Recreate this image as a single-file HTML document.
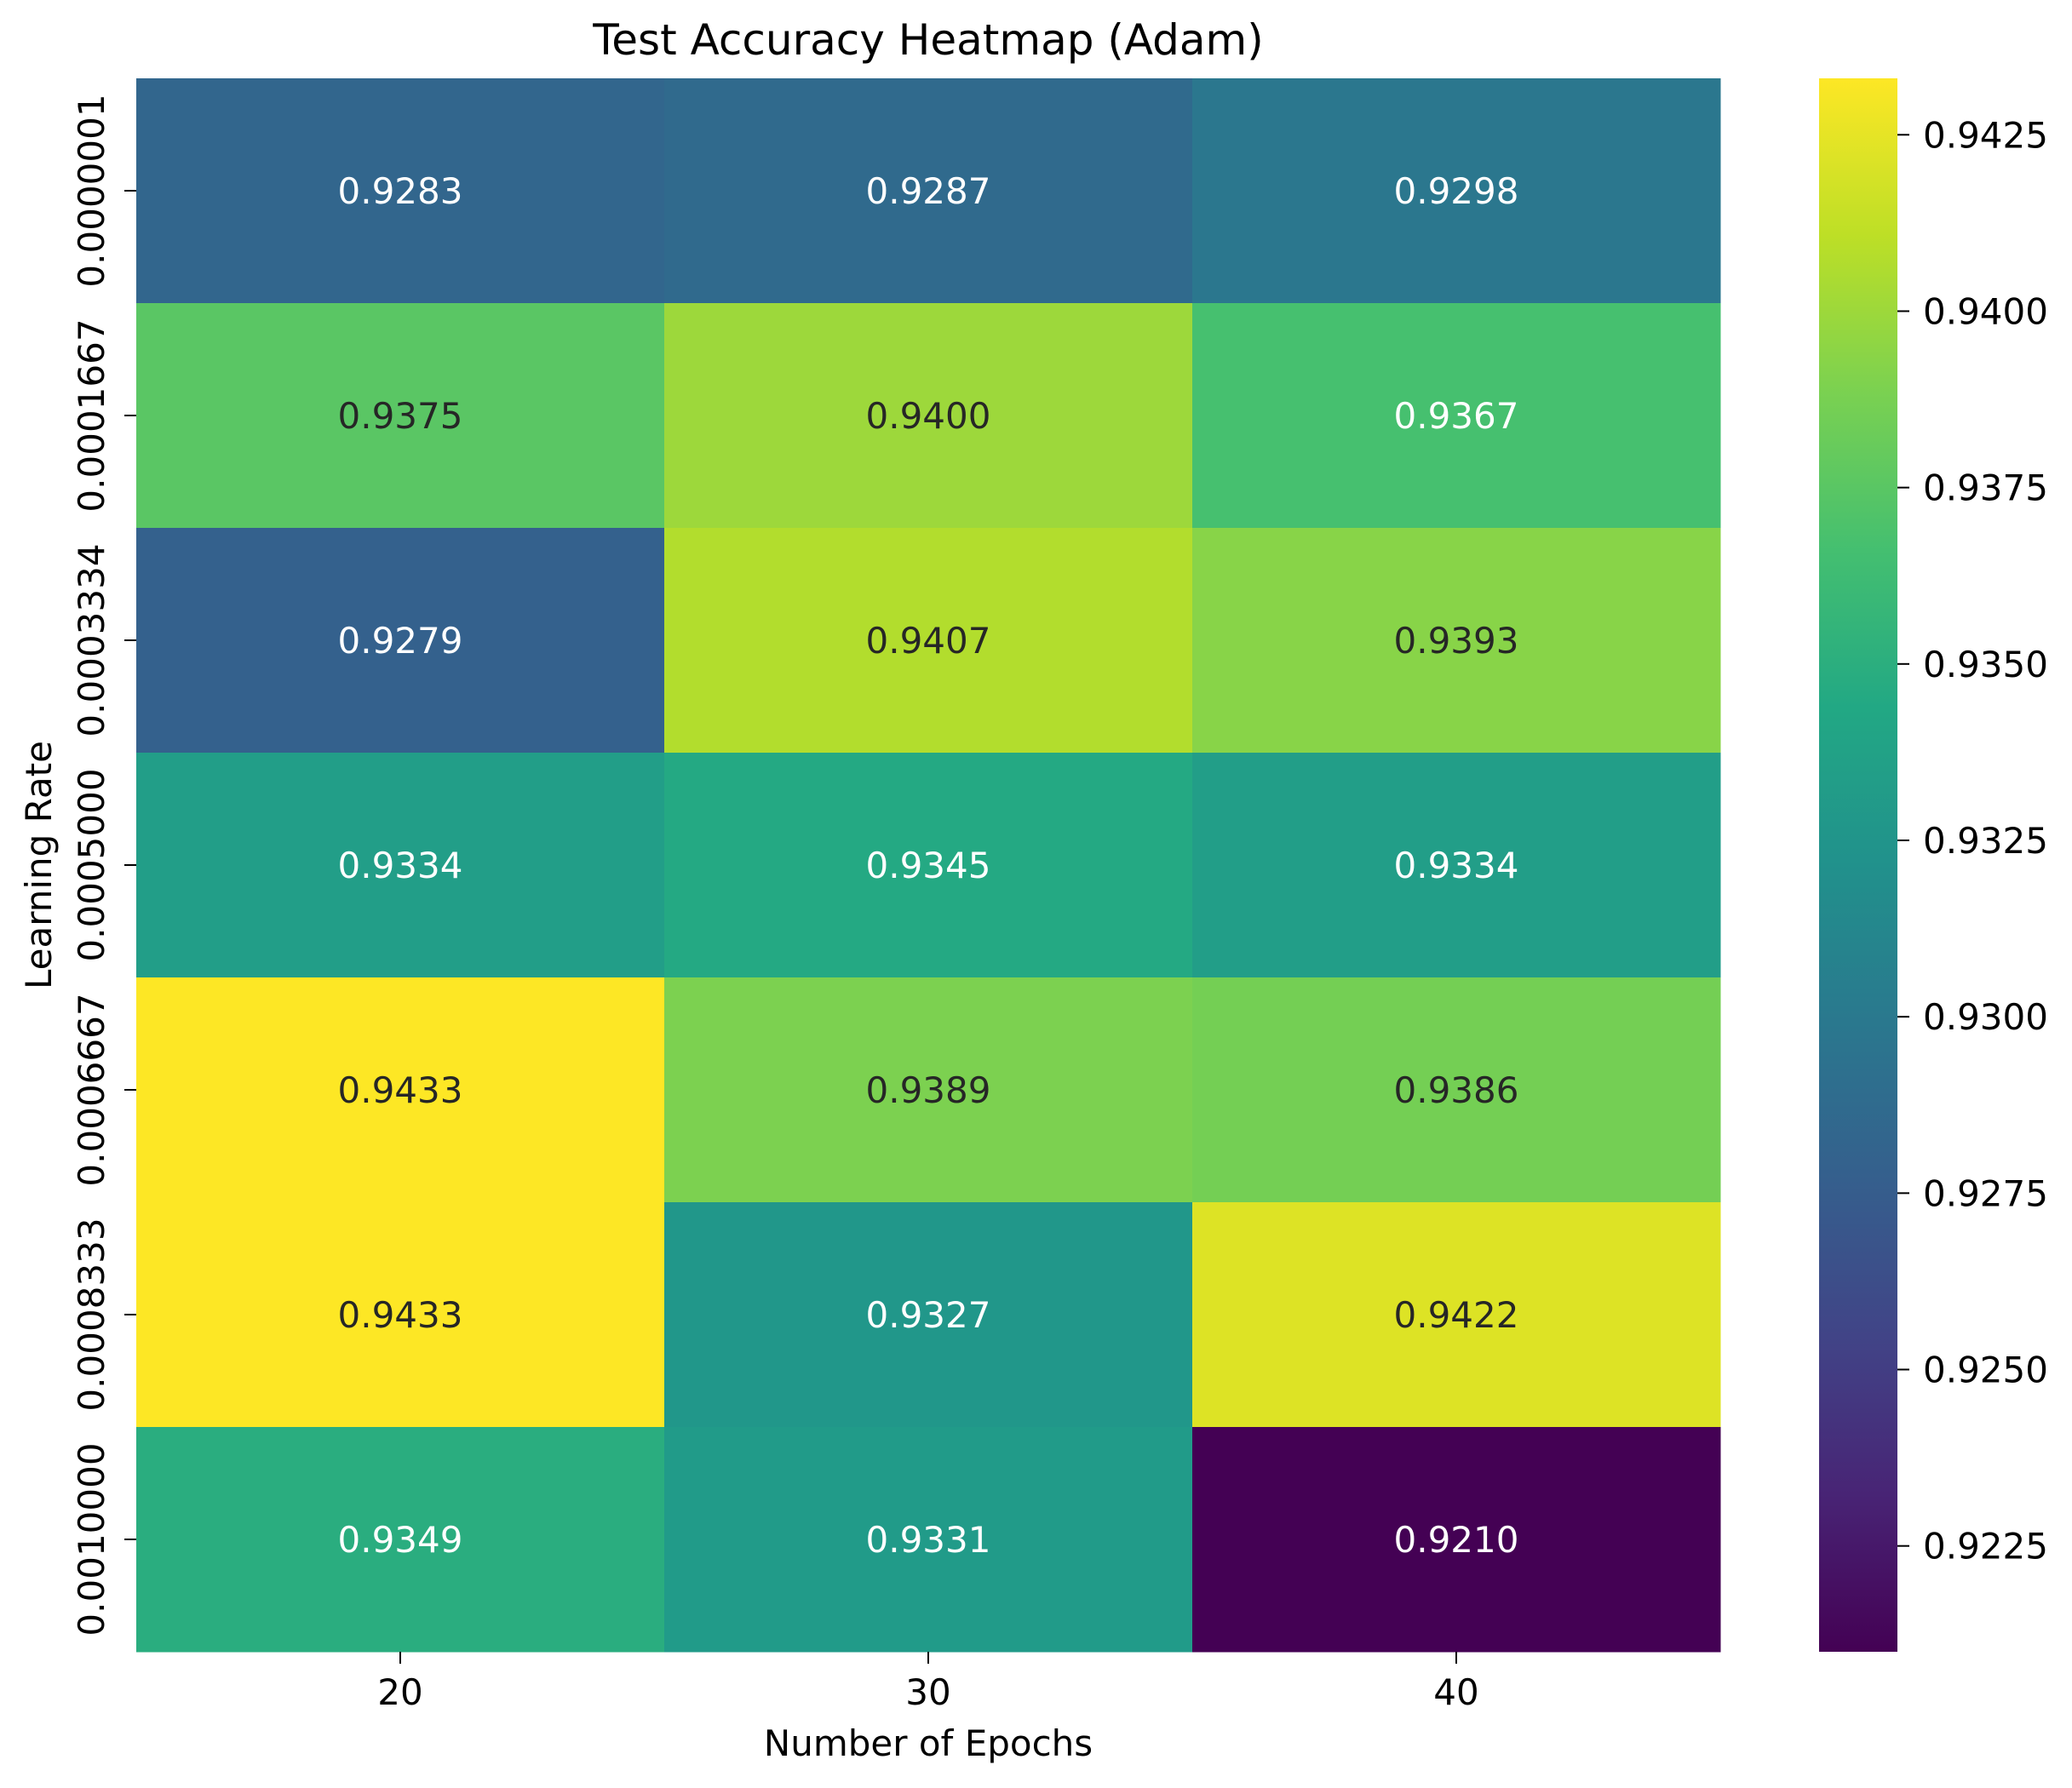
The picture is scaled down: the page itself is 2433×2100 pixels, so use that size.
<!DOCTYPE html>
<html><head><meta charset="utf-8"><style>
html,body{margin:0;padding:0;background:#fff;}
svg{display:block;font-family:"DejaVu Sans","Liberation Sans",sans-serif;}
</style></head><body>
<svg id="chart" width="2433" height="2100" viewBox="0 0 2433 2100" xmlns="http://www.w3.org/2000/svg">
<text x="1090" y="64" font-size="50" text-anchor="middle">Test Accuracy Heatmap (Adam)</text>
<g id="cells"></g>
<g id="axes"></g>
<text x="1090" y="2062" font-size="42" text-anchor="middle">Number of Epochs</text>
<text transform="translate(60,1016) rotate(-90)" font-size="42" text-anchor="middle">Learning Rate</text>
<defs><linearGradient id="vir" x1="0" y1="1" x2="0" y2="0"></linearGradient></defs>
<rect x="2136" y="92" width="92" height="1848" fill="url(#vir)"/>
<g id="cbticks"></g>
</svg>
<script>
const epochs = ["20","30","40"];
const rates = ["0.0000001","0.0001667","0.0003334","0.0005000","0.0006667","0.0008333","0.0010000"];
const row0 = [0.9283,0.9287,0.9298];
const row1 = [0.9375,0.9400,0.9367];
const row2 = [0.9279,0.9407,0.9393];
const row3 = [0.9334,0.9345,0.9334];
const row4 = [0.9433,0.9389,0.9386];
const row5 = [0.9433,0.9327,0.9422];
const row6 = [0.9349,0.9331,0.9210];
const cbTicks = [0.9225,0.9250,0.9275,0.9300,0.9325,0.9350,0.9375,0.9400,0.9425];

const values = [row0,row1,row2,row3,row4,row5,row6];
const NS="http://www.w3.org/2000/svg";
const L=160,R=2020,T=92,B=1940;
const flat=values.flat();
const vmin=Math.min(...flat), vmax=Math.max(...flat);
const cw=(R-L)/epochs.length, ch=(B-T)/rates.length;
const xC=i=>L+cw*(i+0.5);
const yC=j=>T+ch*(j+0.5);
const cbY=v=>B-(v-vmin)/(vmax-vmin)*(B-T);
const stops=["#440154","#482475","#414487","#355f8d","#2a788e","#21918c","#22a884","#44bf70","#7ad151","#bddf26","#fde725"];
function hex(h){return [1,3,5].map(k=>parseInt(h.substr(k,2),16));}
function vir(t){t=Math.max(0,Math.min(1,t));const p=t*10;const i=Math.min(9,Math.floor(p));const f=p-i;const a=hex(stops[i]),b=hex(stops[i+1]);return a.map((c,k)=>Math.round(c+(b[k]-c)*f));}
function lin(c){c/=255;return c<=0.03928?c/12.92:Math.pow((c+0.055)/1.055,2.4);}
function mk(tag,attrs,parent){const e=document.createElementNS(NS,tag);for(const k in attrs)e.setAttribute(k,attrs[k]);parent.appendChild(e);return e;}
const grad=document.getElementById('vir');
stops.forEach((s,i)=>mk('stop',{offset:(i*10)+'%','stop-color':s},grad));
const cells=document.getElementById('cells');
values.forEach((row,j)=>row.forEach((v,i)=>{
  const c=vir((v-vmin)/(vmax-vmin));
  const r=mk('rect',{x:L+cw*i,y:T+ch*j,width:cw+0.5,height:ch+0.5,fill:`rgb(${c})`},cells);
  
  
  const lum=0.2126*lin(c[0])+0.7152*lin(c[1])+0.0722*lin(c[2]);
  const t=mk('text',{x:xC(i),y:yC(j)+15,'font-size':42,'text-anchor':'middle',fill:lum>0.408?'#262626':'#ffffff'},cells);
  t.textContent=v.toFixed(4);
  
  
}));
const axes=document.getElementById('axes');
epochs.forEach((e,i)=>{
  mk('line',{x1:xC(i),x2:xC(i),y1:B,y2:B+14,stroke:'#000','stroke-width':2},axes);
  const t=mk('text',{x:xC(i),y:B+62,'font-size':42,'text-anchor':'middle'},axes);
  t.textContent=e;
  
  
});
rates.forEach((r,j)=>{
  mk('line',{x1:L-14,x2:L,y1:yC(j),y2:yC(j),stroke:'#000','stroke-width':2},axes);
  const t=mk('text',{transform:`translate(122,${yC(j)}) rotate(-90)`,'font-size':42,'text-anchor':'middle'},axes);
  t.textContent=r;
  
  
});
const cbt=document.getElementById('cbticks');
cbTicks.forEach(v=>{
  const y=cbY(v);
  mk('line',{x1:2228,x2:2242,y1:y,y2:y,stroke:'#000','stroke-width':2},cbt);
  const t=mk('text',{x:2258,y:y+15,'font-size':42},cbt);
  t.textContent=v.toFixed(4);
  
  
});
</script>
</body></html>
